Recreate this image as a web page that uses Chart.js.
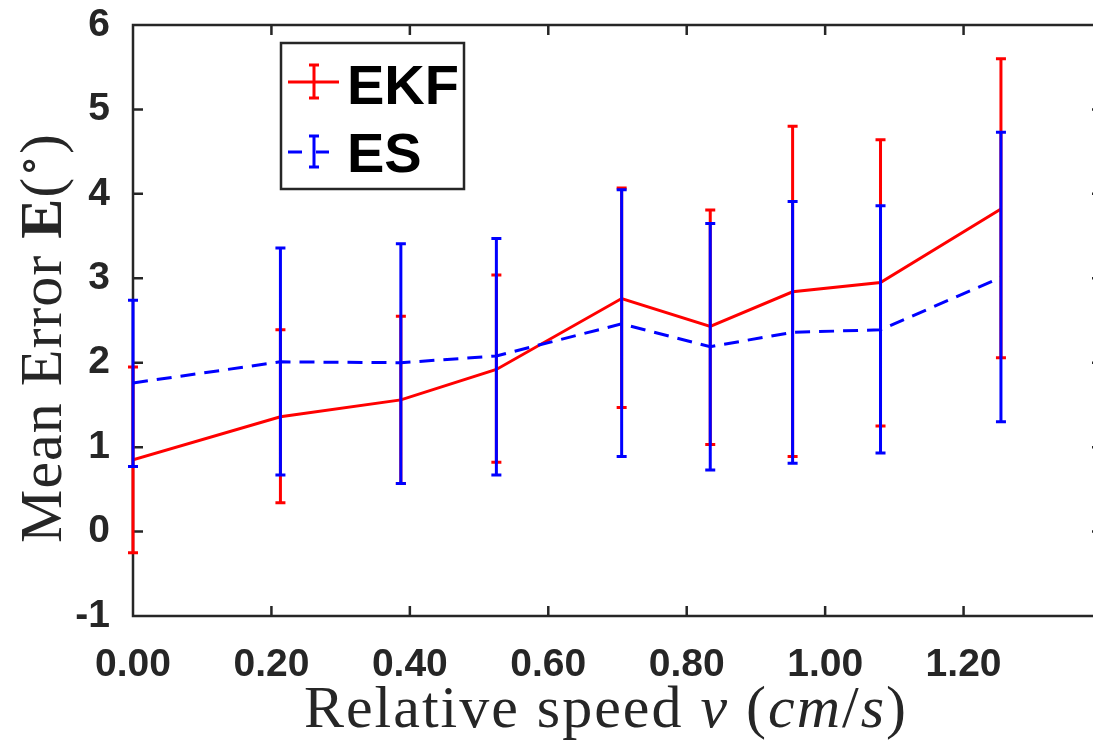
<!DOCTYPE html>
<html>
<head>
<meta charset="utf-8">
<script src="https://cdn.jsdelivr.net/npm/chart.js@4.4.1/dist/chart.umd.min.js"></script>
<style>
  html, body { margin: 0; padding: 0; background: #fff; overflow: hidden; }
  #wrap { width: 1115px; height: 742px; }
</style>
</head>
<body>
<div id="wrap"><canvas id="errChart" width="1115" height="742"></canvas></div>
<script>
// relative speed (cm/s) and mean error with error bar ends
var speed   = [0.00, 0.213, 0.387, 0.525, 0.706, 0.834, 0.953, 1.080, 1.254];

var ekfMean = [0.85, 1.36, 1.56, 1.92, 2.76, 2.43, 2.84, 2.95, 3.82];
var ekfLow  = [-0.25, 0.34, 0.57, 0.82, 1.47, 1.03, 0.89, 1.25, 2.06];
var ekfHigh = [1.95, 2.39, 2.55, 3.04, 4.07, 3.81, 4.80, 4.64, 5.60];

var esMean  = [1.76, 2.01, 2.00, 2.08, 2.46, 2.19, 2.36, 2.39, 3.01];
var esLow   = [0.77, 0.67, 0.57, 0.67, 0.89, 0.73, 0.81, 0.93, 1.30];
var esHigh  = [2.74, 3.36, 3.41, 3.47, 4.05, 3.65, 3.91, 3.86, 4.73];

var xTickVals   = [0, 0.2, 0.4, 0.6, 0.8, 1.0, 1.2, 1.4];
var xTickLabels = ['0.00', '0.20', '0.40', '0.60', '0.80', '1.00', '1.20', ''];
var yTickVals   = [-1, 0, 1, 2, 3, 4, 5, 6];

var AXIS = '#262626';
var SANS = '"Liberation Sans", Arial, Helvetica, sans-serif';
var SERIF = '"Liberation Serif", "Times New Roman", serif';

function pts(ys) {
    return speed.map(function (x, i) { return { x: x, y: ys[i] }; });
}

// MATLAB-style box with inward ticks on all four sides
var axisBox = {
    id: 'axisBox',
    beforeDatasetsDraw: function (chart) {
        var a = chart.chartArea, ctx = chart.ctx;
        var xs = chart.scales.x, ys = chart.scales.y;
        var tl = 10;
        ctx.save();
        ctx.strokeStyle = AXIS;
        ctx.lineWidth = 2.5;
        ctx.beginPath();
        ctx.rect(a.left, a.top, a.right - a.left, a.bottom - a.top);
        xTickVals.forEach(function (v) {
            var px = xs.getPixelForValue(v);
            ctx.moveTo(px, a.bottom); ctx.lineTo(px, a.bottom - tl);
            ctx.moveTo(px, a.top); ctx.lineTo(px, a.top + tl);
        });
        yTickVals.forEach(function (v) {
            var py = ys.getPixelForValue(v);
            ctx.moveTo(a.left, py); ctx.lineTo(a.left + tl, py);
            ctx.moveTo(a.right, py); ctx.lineTo(a.right - tl, py);
        });
        ctx.stroke();
        ctx.restore();
    }
};

// vertical error bars with caps, drawn right after each series' line
var errorBars = {
    id: 'errorBars',
    afterDatasetDraw: function (chart, args) {
        var ds = chart.data.datasets[args.index];
        if (!ds.errLow) return;
        var xs = chart.scales.x, ys = chart.scales.y, ctx = chart.ctx;
        ctx.save();
        ctx.strokeStyle = ds.borderColor;
        ctx.lineWidth = 3;
        ctx.setLineDash([]);
        ctx.beginPath();
        ds.data.forEach(function (p, i) {
            var px = xs.getPixelForValue(p.x);
            var top = ys.getPixelForValue(ds.errHigh[i]);
            var bot = ys.getPixelForValue(ds.errLow[i]);
            ctx.moveTo(px, top); ctx.lineTo(px, bot);
            ctx.moveTo(px - 5, top); ctx.lineTo(px + 5, top);
            ctx.moveTo(px - 5, bot); ctx.lineTo(px + 5, bot);
        });
        ctx.stroke();
        ctx.restore();
    }
};

function drawRuns(ctx, runs) {
    var total = 0;
    runs.forEach(function (r) {
        ctx.font = r.font;
        r.w = ctx.measureText(r.text).width;
        total += r.w;
    });
    var x = -total / 2;
    runs.forEach(function (r) {
        ctx.font = r.font;
        ctx.fillText(r.text, x, r.dy || 0);
        x += r.w;
    });
}

// axis titles (mixed roman / italic / bold) and the legend
var decorations = {
    id: 'decorations',
    afterDraw: function (chart) {
        var ctx = chart.ctx;
        var fs = 60;
        var rm = fs + 'px ' + SERIF, it = 'italic ' + fs + 'px ' + SERIF, bf = 'bold ' + fs + 'px ' + SERIF;
        ctx.save();
        ctx.fillStyle = AXIS;
        ctx.textBaseline = 'alphabetic';
        ctx.letterSpacing = '2px';

        ctx.save();
        ctx.translate(606, 727);
        drawRuns(ctx, [
            { text: 'Relative speed ', font: rm },
            { text: 'v', font: it },
            { text: ' (', font: rm },
            { text: 'cm', font: it },
            { text: '/', font: rm },
            { text: 's', font: it },
            { text: ')', font: rm }
        ]);
        ctx.restore();

        ctx.save();
        ctx.letterSpacing = '1px';
        ctx.translate(61, 338);
        ctx.rotate(-Math.PI / 2);
        drawRuns(ctx, [
            { text: 'Mean Error ', font: rm },
            { text: 'E', font: bf },
            { text: '(', font: rm },
            { text: '\u2218', font: '44px "DejaVu Serif", serif', dy: -18 },
            { text: ')', font: rm }
        ]);
        ctx.restore();
        ctx.letterSpacing = '0px';

        // legend box
        ctx.fillStyle = '#fff';
        ctx.fillRect(281, 43, 183, 146);
        ctx.strokeStyle = AXIS;
        ctx.lineWidth = 2.5;
        ctx.strokeRect(281, 43, 183, 146);

        ctx.lineWidth = 3;
        // EKF sample
        ctx.strokeStyle = '#ff0000';
        ctx.beginPath();
        ctx.moveTo(288, 82); ctx.lineTo(339, 82);
        ctx.moveTo(314, 65); ctx.lineTo(314, 98);
        ctx.moveTo(309, 65); ctx.lineTo(319, 65);
        ctx.moveTo(309, 98); ctx.lineTo(319, 98);
        ctx.stroke();
        // ES sample
        ctx.strokeStyle = '#0000ff';
        ctx.beginPath();
        ctx.moveTo(288, 152); ctx.lineTo(302, 152);
        ctx.moveTo(316, 152); ctx.lineTo(329, 152);
        ctx.moveTo(314, 136); ctx.lineTo(314, 167);
        ctx.moveTo(309, 136); ctx.lineTo(319, 136);
        ctx.moveTo(309, 167); ctx.lineTo(319, 167);
        ctx.stroke();

        ctx.fillStyle = '#000';
        ctx.font = 'bold 56px ' + SANS;
        ctx.textAlign = 'left';
        ctx.fillText('EKF', 347, 104);
        ctx.fillText('ES', 347, 172);
        ctx.restore();
    }
};

var ctx = document.getElementById('errChart').getContext('2d');
new Chart(ctx, {
    type: 'line',
    data: {
        datasets: [{
            label: 'EKF',
            data: pts(ekfMean),
            errLow: ekfLow,
            errHigh: ekfHigh,
            borderColor: '#ff0000',
            borderWidth: 3,
            pointRadius: 0,
            fill: false,
            order: 1
        }, {
            label: 'ES',
            data: pts(esMean),
            errLow: esLow,
            errHigh: esHigh,
            borderColor: '#0000ff',
            borderWidth: 3,
            borderDash: [15, 9],
            pointRadius: 0,
            fill: false,
            order: 0
        }]
    },
    options: {
        responsive: false,
        animation: false,
        layout: { padding: { left: 0, top: 25, right: 13, bottom: 0 } },
        plugins: {
            legend: { display: false },
            tooltip: { enabled: false }
        },
        scales: {
            x: {
                type: 'linear',
                min: 0,
                max: 1.4,
                grid: { display: false },
                border: { display: false },
                afterBuildTicks: function (s) {
                    s.ticks = xTickVals.map(function (v) { return { value: v }; });
                },
                afterFit: function (s) {
                    s.height = 126;
                    s.paddingLeft = 0;
                    s.paddingRight = 0;
                },
                ticks: {
                    autoSkip: false,
                    maxRotation: 0,
                    padding: 18,
                    color: AXIS,
                    font: { family: SANS, size: 39, weight: 'bold' },
                    callback: function (v, i) { return xTickLabels[i]; }
                }
            },
            y: {
                type: 'linear',
                min: -1,
                max: 6,
                grid: { display: false },
                border: { display: false },
                afterBuildTicks: function (s) {
                    s.ticks = yTickVals.map(function (v) { return { value: v }; });
                },
                afterFit: function (s) {
                    s.width = 133;
                    s.paddingTop = 0;
                    s.paddingBottom = 0;
                },
                ticks: {
                    padding: 15,
                    color: AXIS,
                    font: { family: SANS, size: 39, weight: 'bold' },
                    callback: function (v) { return String(v); }
                }
            }
        }
    },
    plugins: [axisBox, errorBars, decorations]
});
</script>
</body>
</html>
